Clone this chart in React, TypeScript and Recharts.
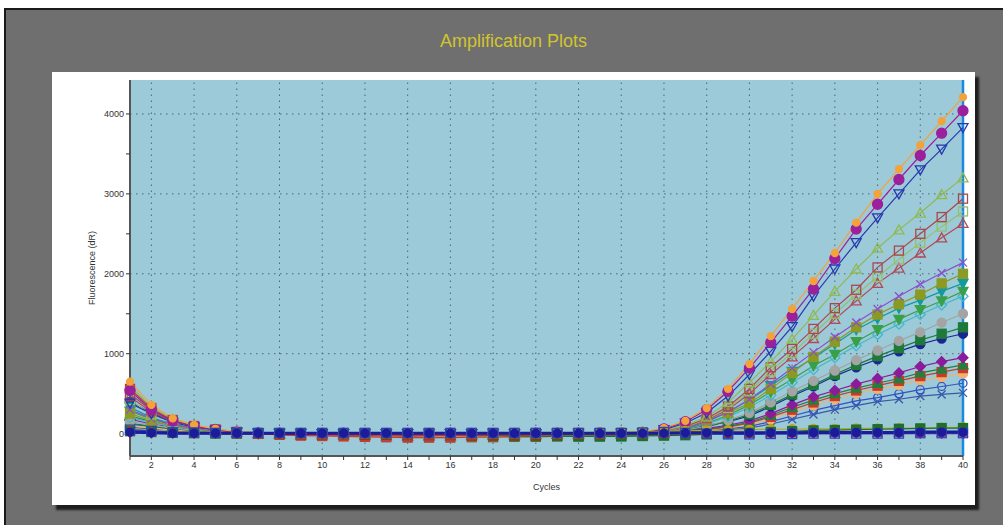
import React from "react";
import { LineChart, Line, XAxis, YAxis, CartesianGrid, ReferenceLine } from "recharts";

const cycles = [1, 2, 3, 4, 5, 6, 7, 8, 9, 10, 11, 12, 13, 14, 15, 16, 17, 18, 19, 20, 21, 22, 23, 24, 25, 26, 27, 28, 29, 30, 31, 32, 33, 34, 35, 36, 37, 38, 39, 40];
const yTicks = [0, 500, 1000, 1500, 2000, 2500, 3000, 3500, 4000];
const gridCycles = [2, 4, 6, 8, 10, 12, 14, 16, 18, 20, 22, 24, 26, 28, 30, 32, 34, 36, 38];
const gridValues = [0, 1000, 2000, 3000, 4000];

// fluorescence (dR) per well, cycles 1..40
const wellA1 = [650, 360, 190, 110, 60, 25, 10, 5, 0, 5, 0, -5, 0, 5, 0, -5, 0, 0, 5, 0, 5, 10, 10, 15, 20, 70, 160, 320, 560, 870, 1220, 1560, 1910, 2260, 2640, 3000, 3310, 3610, 3910, 4210];
const wellA2 = [540, 300, 160, 90, 50, 20, 10, 5, 0, 0, 5, 0, -5, 0, 0, 5, 0, 0, 0, 5, 5, 5, 10, 10, 15, 60, 150, 300, 530, 820, 1140, 1470, 1810, 2190, 2560, 2870, 3180, 3480, 3760, 4040];
const wellA3 = [380, 250, 140, 80, 45, 20, 10, 5, 5, 0, 0, 5, 0, 0, 5, 0, 0, 5, 0, 0, 5, 5, 5, 10, 10, 50, 130, 260, 470, 740, 1030, 1340, 1720, 2060, 2390, 2700, 3000, 3300, 3560, 3830];
const wellA4 = [600, 330, 180, 100, 55, 25, 10, 0, 0, 5, 0, 0, -5, 0, 0, 0, 5, 0, 0, 0, 5, 5, 5, 10, 15, 40, 100, 210, 390, 640, 900, 1180, 1480, 1780, 2060, 2320, 2550, 2760, 2990, 3200];
const wellA5 = [500, 290, 160, 90, 50, 20, 5, 0, -5, 0, 0, -5, 0, 0, -5, 0, 0, 0, 0, 5, 0, 5, 5, 5, 10, 35, 90, 190, 340, 560, 830, 1060, 1310, 1570, 1800, 2080, 2290, 2500, 2710, 2940];
const wellA6 = [420, 240, 140, 80, 40, 20, 5, 0, 0, 0, -5, 0, 0, 0, 0, 0, 0, 5, 0, 0, 0, 0, 5, 5, 10, 30, 80, 180, 320, 530, 780, 1010, 1250, 1500, 1740, 1960, 2180, 2390, 2590, 2780];
const wellA7 = [460, 270, 150, 90, 45, 20, 0, -10, -20, -15, -20, -25, -30, -35, -30, -30, -25, -20, -20, -15, -10, -5, 0, 5, 10, 30, 75, 170, 300, 500, 740, 960, 1190, 1430, 1660, 1880, 2070, 2260, 2450, 2630];
const wellA8 = [300, 190, 110, 70, 35, 15, 5, 0, 0, 0, 0, 0, 0, 0, 0, 5, 0, 0, 0, 0, 0, 5, 5, 5, 10, 25, 70, 150, 270, 430, 620, 820, 1020, 1210, 1390, 1560, 1720, 1870, 2010, 2140];
const wellB1 = [250, 160, 100, 60, 30, 15, 5, 0, 0, 0, 0, -5, 0, 0, 0, 0, 0, 0, 0, 0, -5, 0, 0, 5, 5, 30, 85, 170, 260, 380, 560, 760, 960, 1150, 1330, 1490, 1620, 1740, 1880, 2000];
const wellB2 = [330, 200, 120, 70, 35, 15, 5, 0, 0, -5, 0, 0, 0, -5, 0, 0, 0, 0, 0, -5, -5, -10, -5, 0, 5, 25, 70, 150, 270, 420, 600, 780, 950, 1120, 1300, 1440, 1570, 1670, 1780, 1880];
const wellB3 = [280, 180, 110, 60, 30, 15, 0, 0, 0, -5, -5, 0, 0, -5, 0, 0, -5, -5, -10, -15, -15, -20, -15, -10, 0, 20, 60, 130, 230, 360, 520, 680, 850, 990, 1150, 1300, 1430, 1550, 1660, 1780];
const wellB4 = [200, 140, 90, 55, 30, 15, 5, 0, 0, 0, 0, 0, 0, 0, 0, 0, 0, 0, 0, 0, 0, 0, 0, 5, 5, 20, 55, 120, 210, 330, 480, 640, 800, 950, 1100, 1240, 1370, 1490, 1610, 1720];
const wellB5 = [150, 110, 70, 45, 25, 10, 5, 0, 0, 0, 0, 0, 0, 0, 0, 0, 0, 0, 0, 0, 0, 0, 5, 5, 5, 15, 45, 95, 170, 260, 390, 530, 660, 790, 920, 1040, 1160, 1270, 1390, 1500];
const wellB6 = [120, 90, 60, 40, 20, 10, 0, 0, -5, -5, -5, -5, -10, -10, -10, -15, -15, -20, -25, -30, -30, -35, -35, -30, -25, -10, 30, 85, 155, 240, 360, 490, 610, 740, 860, 970, 1070, 1170, 1250, 1330];
const wellB7 = [400, 260, 150, 90, 50, 25, 10, 5, 5, 5, 5, 5, 5, 5, 5, 5, 5, 5, 5, 5, 5, 5, 10, 10, 15, 25, 50, 100, 150, 220, 340, 470, 590, 720, 830, 930, 1030, 1120, 1190, 1250];
const wellB8 = [180, 120, 80, 50, 25, 10, 5, 0, 0, 0, 0, 0, 0, 0, 0, 0, 0, 0, 0, 0, 0, 0, 0, 5, 5, 15, 35, 65, 105, 160, 250, 360, 460, 540, 620, 690, 760, 840, 900, 950];
const wellC1 = [220, 150, 90, 55, 30, 15, 5, 0, 0, 0, 0, -5, -5, -5, -5, -5, -10, -10, -10, -10, -10, -10, -5, -5, 0, 10, 30, 55, 90, 140, 230, 330, 420, 500, 570, 630, 690, 760, 810, 860];
const wellC2 = [560, 320, 170, 95, 50, 20, 0, -15, -25, -30, -35, -40, -45, -50, -50, -50, -45, -45, -40, -40, -35, -30, -25, -20, -15, 0, 20, 50, 85, 130, 210, 300, 390, 470, 540, 600, 660, 720, 770, 820];
const wellC3 = [100, 70, 45, 30, 15, 5, 0, -10, -20, -25, -30, -35, -40, -45, -45, -45, -40, -40, -35, -30, -25, -20, -15, -10, -5, 5, 20, 45, 75, 110, 180, 270, 350, 430, 500, 560, 610, 670, 710, 750];
const wellC4 = [130, 90, 60, 40, 20, 10, 5, 0, 0, 0, 0, 0, 0, 0, 0, 0, 0, 0, 0, 0, 0, 0, 0, 0, 5, 10, 20, 35, 60, 90, 150, 220, 290, 350, 410, 450, 500, 550, 590, 630];
const wellC5 = [80, 60, 40, 25, 15, 5, 0, 0, 0, 0, 0, 0, 0, 0, 0, 0, 0, 0, 0, 0, 0, 0, 0, 0, 0, 5, 15, 25, 45, 70, 120, 180, 240, 300, 350, 400, 430, 470, 490, 510];
const ntcC6 = [60, 40, 25, 15, 10, 5, 0, 0, 0, 0, 0, 0, 0, 0, 0, 0, 0, 0, 5, 5, 10, 10, 15, 20, 25, 30, 35, 40, 45, 50, 55, 55, 60, 60, 65, 65, 70, 70, 75, 80];
const ntcC7 = [30, 20, 10, 5, 0, 0, 0, -5, -10, -10, -10, -15, -15, -20, -20, -20, -25, -25, -30, -30, -30, -35, -35, -35, -30, -25, -20, -10, 0, 10, 20, 30, 40, 45, 50, 55, 60, 65, 70, 70];
const ntcC8 = [20, 10, 5, 5, 5, 5, 5, 5, 5, 5, 5, 5, 5, 5, 5, 5, 5, 5, 5, 5, 5, 5, 5, 5, 5, 5, 10, 10, 10, 10, 10, 10, 15, 15, 15, 15, 15, 20, 20, 20];
const ntcD1 = [40, 25, 15, 5, 0, -5, -10, -10, -15, -15, -15, -15, -15, -20, -20, -20, -20, -15, -15, -15, -10, -10, -10, -5, -5, 0, 0, 0, 5, 5, 5, 5, 10, 10, 10, 10, 10, 10, 15, 15];
const ntcD2 = [10, 5, 0, 0, 0, 0, 0, 0, 0, 0, 0, 0, 0, 0, 0, 0, 0, 0, 0, 0, 0, 0, 0, 0, 0, 0, 0, 0, 0, 0, 0, 0, 0, 0, 0, 0, 0, 0, 0, 0];
const ntcD3 = [50, 35, 20, 15, 10, 10, 10, 10, 10, 10, 10, 10, 10, 10, 10, 10, 10, 10, 10, 10, 10, 10, 10, 10, 15, 20, 10, 0, -10, -10, -5, -5, 0, 0, 0, 0, 0, 5, 5, 5];

type Shape = "circle" | "square" | "tri" | "triDown" | "diamond" | "x";
type Well = { key: string; values: number[]; color: string; shape: Shape; filled: boolean; r: number; width?: number };

// amplified wells, listed from the highest curve down
const positives: Well[] = [
  { key: "A1", values: wellA1, color: "#f4a23a", shape: "circle", filled: true, r: 3.5 },
  { key: "A2", values: wellA2, color: "#9c1f9c", shape: "circle", filled: true, r: 5 },
  { key: "A3", values: wellA3, color: "#2638b0", shape: "triDown", filled: false, r: 5 },
  { key: "A4", values: wellA4, color: "#8fba52", shape: "tri", filled: false, r: 5 },
  { key: "A5", values: wellA5, color: "#a8484c", shape: "square", filled: false, r: 4.5 },
  { key: "A6", values: wellA6, color: "#93c06a", shape: "square", filled: false, r: 4.5 },
  { key: "A7", values: wellA7, color: "#b04a58", shape: "tri", filled: false, r: 5 },
  { key: "A8", values: wellA8, color: "#8a50c8", shape: "x", filled: false, r: 4 },
  { key: "B1", values: wellB1, color: "#8c9a22", shape: "square", filled: true, r: 4.5 },
  { key: "B2", values: wellB2, color: "#139a9e", shape: "triDown", filled: true, r: 5 },
  { key: "B3", values: wellB3, color: "#3aa046", shape: "triDown", filled: true, r: 5 },
  { key: "B4", values: wellB4, color: "#45b8c8", shape: "diamond", filled: false, r: 5 },
  { key: "B5", values: wellB5, color: "#a4a4a4", shape: "circle", filled: true, r: 4.5 },
  { key: "B6", values: wellB6, color: "#1f7a3a", shape: "square", filled: true, r: 4.5 },
  { key: "B7", values: wellB7, color: "#1c2690", shape: "circle", filled: true, r: 4.5 },
  { key: "B8", values: wellB8, color: "#8a1c9c", shape: "diamond", filled: true, r: 5 },
  { key: "C1", values: wellC1, color: "#22803a", shape: "tri", filled: true, r: 5 },
  { key: "C2", values: wellC2, color: "#c83a2a", shape: "square", filled: true, r: 4.5 },
  { key: "C3", values: wellC3, color: "#f0b274", shape: "circle", filled: true, r: 4.5 },
  { key: "C4", values: wellC4, color: "#3452c0", shape: "circle", filled: false, r: 4 },
  { key: "C5", values: wellC5, color: "#3a58a8", shape: "x", filled: false, r: 4 },
];

// no-template controls, drawn last so they sit on top along the baseline
const negatives: Well[] = [
  { key: "C6", values: ntcC6, color: "#b8a81a", shape: "circle", filled: true, r: 4.5 },
  { key: "C7", values: ntcC7, color: "#1e6e2e", shape: "square", filled: true, r: 4.5 },
  { key: "D1", values: ntcD1, color: "#d0302a", shape: "tri", filled: true, r: 4.5 },
  { key: "D2", values: ntcD2, color: "#7a1a8a", shape: "diamond", filled: true, r: 4.5 },
  { key: "D3", values: ntcD3, color: "#2844c0", shape: "square", filled: false, r: 4.5 },
  { key: "C8", values: ntcC8, color: "#1c1c9a", shape: "circle", filled: true, r: 4, width: 3 },
];

const drawOrder = [...[...positives].reverse(), ...negatives];

const data = cycles.map((cycle, i) => {
  const row: Record<string, number> = { cycle };
  drawOrder.forEach((w) => (row[w.key] = w.values[i]));
  return row;
});

function makeDot(shape: Shape, color: string, filled: boolean, r: number) {
  return (props: any) => {
    const { cx, cy, index } = props;
    if (cx == null || cy == null) return <g key={index} />;
    const fill = filled ? color : "none";
    const common = { stroke: color, strokeWidth: 1.3, fill };
    let el: React.ReactNode;
    if (shape === "circle") el = <circle cx={cx} cy={cy} r={r} {...common} />;
    else if (shape === "square") el = <rect x={cx - r} y={cy - r} width={2 * r} height={2 * r} {...common} />;
    else if (shape === "tri")
      el = <polygon points={`${cx},${cy - r} ${cx + r},${cy + r * 0.8} ${cx - r},${cy + r * 0.8}`} {...common} />;
    else if (shape === "triDown")
      el = <polygon points={`${cx},${cy + r} ${cx + r},${cy - r * 0.8} ${cx - r},${cy - r * 0.8}`} {...common} />;
    else if (shape === "diamond")
      el = <polygon points={`${cx},${cy - r} ${cx + r},${cy} ${cx},${cy + r} ${cx - r},${cy}`} {...common} />;
    else
      el = (
        <path d={`M${cx - r},${cy - r}L${cx + r},${cy + r}M${cx - r},${cy + r}L${cx + r},${cy - r}`} stroke={color} strokeWidth={1.3} />
      );
    return <g key={index}>{el}</g>;
  };
}

const tickStyle = { fontSize: 9, fill: "#333", fontFamily: "Arial, 'Liberation Sans', sans-serif" };

export default function App() {
  return (
    <div style={{ position: "absolute", left: 0, top: 0, width: 1003, height: 525, background: "#fff", overflow: "hidden", fontFamily: "Arial, 'Liberation Sans', sans-serif" }}>
      <div style={{ position: "absolute", left: 4, top: 8, right: 0, bottom: 0, background: "#6f6f6f", borderLeft: "2px solid #1a1a1a", borderTop: "2px solid #1a1a1a" }} />
      <div style={{ position: "absolute", left: 52, top: 31, width: 923, textAlign: "center", color: "#d2c42e", fontSize: 18 }}>
        Amplification Plots
      </div>
      <div style={{ position: "absolute", left: 52, top: 72, width: 923, height: 433, background: "#fff", boxShadow: "4px 5px 2px #1e1e1e" }}>
        <LineChart width={923} height={433} data={data} margin={{ top: 8, right: 12, left: 18, bottom: 9 }}>
          <CartesianGrid fill="#9ccad8" horizontal={false} vertical={false} />
          {gridCycles.map((c) => (
            <ReferenceLine key={"v" + c} x={c} stroke="#4e6670" strokeDasharray="1.5 4.5" />
          ))}
          {gridValues.map((v) => (
            <ReferenceLine key={"h" + v} y={v} stroke="#4e6670" strokeDasharray="1.5 4.5" />
          ))}
          <XAxis
            type="number"
            dataKey="cycle"
            domain={[1, 40]}
            ticks={cycles}
            interval={0}
            tickFormatter={(v: number) => (v % 2 === 0 ? String(v) : "")}
            tick={tickStyle}
            tickSize={4}
            tickLine={{ stroke: "#333" }}
            axisLine={{ stroke: "#555", strokeWidth: 2 }}
            height={40}
            label={{ value: "Cycles", position: "insideBottom", offset: 6, style: { fontSize: 9, fill: "#333" } }}
          />
          <YAxis
            type="number"
            domain={[-280, 4425]}
            allowDataOverflow
            ticks={yTicks}
            interval={0}
            tickFormatter={(v: number) => (v % 1000 === 0 ? String(v) : "")}
            tick={tickStyle}
            tickSize={4}
            tickLine={{ stroke: "#333" }}
            axisLine={{ stroke: "#555", strokeWidth: 2 }}
            width={60}
            label={{ value: "Fluorescence (dR)", angle: -90, position: "insideLeft", offset: 22, style: { fontSize: 9, fill: "#333", textAnchor: "middle" } }}
          />
          <ReferenceLine x={40} stroke="#1a8ae0" strokeWidth={2.5} />
          {drawOrder.map((w) => (
            <Line
              key={w.key}
              dataKey={w.key}
              stroke={w.color}
              strokeWidth={w.width ?? 1.2}
              dot={makeDot(w.shape, w.color, w.filled, w.r)}
              activeDot={false}
              isAnimationActive={false}
              type="linear"
            />
          ))}
        </LineChart>
      </div>
    </div>
  );
}
